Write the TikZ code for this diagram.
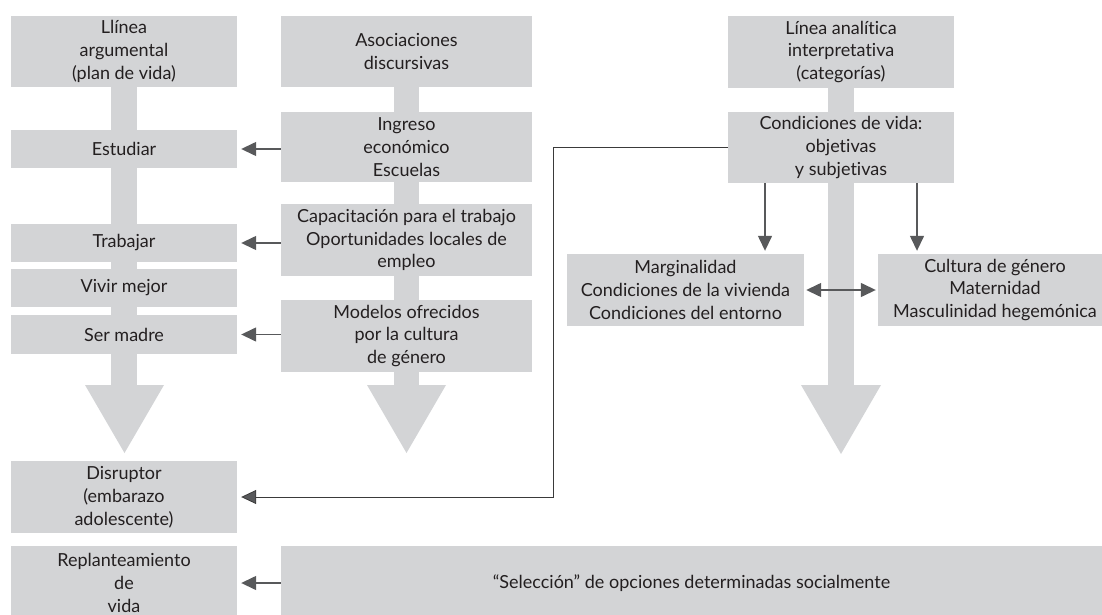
\documentclass[tikz,border=0pt]{standalone}
\usepackage{fontspec}
\setmainfont{Lato}[Ligatures=NoCommon]
\usetikzlibrary{arrows.meta,calc}
\definecolor{boxgray}{HTML}{D3D4D6}
\definecolor{arrgray}{HTML}{58595B}
\definecolor{txtcol}{HTML}{231F20}
\definecolor{linecol}{HTML}{3A3A3A}
\begin{document}
\begin{tikzpicture}[x=1pt,y=-1pt,
  box/.style={fill=boxgray, inner sep=0pt, align=center, text=txtcol,
    font=\fontsize{18}{22.8}\selectfont},
  garrow/.style={draw=arrgray, line width=1.4pt, -{Triangle[length=15pt,width=14pt]}, shorten >=4pt},
  gdarrow/.style={draw=arrgray, line width=1.4pt, {Triangle[length=15pt,width=14pt]}-{Triangle[length=15pt,width=14pt]}, shorten >=2pt, shorten <=2pt},
  thinarrow/.style={draw=linecol, line width=0.8pt, -{Triangle[length=15pt,width=14pt,fill=arrgray]}, shorten >=4pt},
  blockarrow/.style={fill=boxgray, draw=none}]
\useasboundingbox (0,0) rectangle (1102,615);
% block arrows (stems and heads)
\fill[blockarrow] (111,87) rectangle (137,386);
\fill[blockarrow] (85,385) -- (164,385) -- (124.5,453) -- cycle;
\fill[blockarrow] (394,87) rectangle (419,386);
\fill[blockarrow] (367,385) -- (446,385) -- (406.5,453) -- cycle;
\fill[blockarrow] (828,88) rectangle (854,386);
\fill[blockarrow] (801,385) -- (881,385) -- (841,454) -- cycle;
% left column
\node[box, minimum width=226pt, minimum height=71pt] (top1) at (124,51.5) {Llínea\\argumental\\(plan de vida)};
\node[box, minimum width=226pt, minimum height=38pt] (est) at (124,149) {Estudiar};
\node[box, minimum width=226pt, minimum height=38pt] (trab) at (124,243) {Trabajar};
\node[box, minimum width=226pt, minimum height=38pt] (viv) at (124,288) {Vivir mejor};
\node[box, minimum width=226pt, minimum height=39pt] (ser) at (124,334.5) {Ser madre};
\node[box, minimum width=226pt, minimum height=72pt] (disr) at (124,497) {Disruptor\\(embarazo\\adolescente)};
\node[box, minimum width=226pt, minimum height=74pt] (repl) at (124,583) {Replanteamiento\\de\\vida};
% middle column
\node[box, minimum width=251pt, minimum height=71pt] (top2) at (406.5,51.5) {Asociaciones\\discursivas};
\node[box, minimum width=251pt, minimum height=70pt] (ing) at (406.5,147) {Ingreso\\económico\\Escuelas};
\node[box, minimum width=251pt, minimum height=72pt] (cap) at (406.5,240) {Capacitación para el trabajo\\Oportunidades locales de\\empleo};
\node[box, minimum width=251pt, minimum height=72pt] (mod) at (406.5,336) {Modelos ofrecidos\\por la cultura\\de género};
\node[box, minimum width=821pt, minimum height=74pt] (sel) at (691.5,583) {“Selección” de opciones determinadas socialmente};
% right column
\node[box, minimum width=226pt, minimum height=72pt] (top3) at (841,52) {Línea analítica\\interpretativa\\(categorías)};
\node[box, minimum width=226pt, minimum height=71pt] (cond) at (841,147.5) {Condiciones de vida:\\objetivas\\y subjetivas};
\node[box, minimum width=237pt, minimum height=72pt] (marg) at (685.5,290) {Marginalidad\\Condiciones de la vivienda\\Condiciones del entorno};
\node[box, minimum width=234pt, minimum height=72pt] (cult) at (995,290) {Cultura de género\\Maternidad\\Masculinidad hegemónica};
% connectors
\draw[garrow] (ing.west |- est.east) -- (est.east);
\draw[garrow] (cap.west |- trab.east) -- (trab.east);
\draw[garrow] (mod.west |- ser.east) -- (ser.east);
\draw[garrow] (sel.west |- repl.east) -- (repl.east);
\coordinate (corner) at (553,147.5);
\draw[thinarrow] (cond.west) -- (corner) |- (disr.east);
\coordinate (m1) at (765,0);
\coordinate (m2) at (917,0);
\draw[garrow, shorten >=3pt] (cond.south -| m1) -- (marg.north -| m1);
\draw[garrow, shorten >=3pt] (cond.south -| m2) -- (cult.north -| m2);
\draw[gdarrow] (marg.east) -- (cult.west);
\end{tikzpicture}
\end{document}
